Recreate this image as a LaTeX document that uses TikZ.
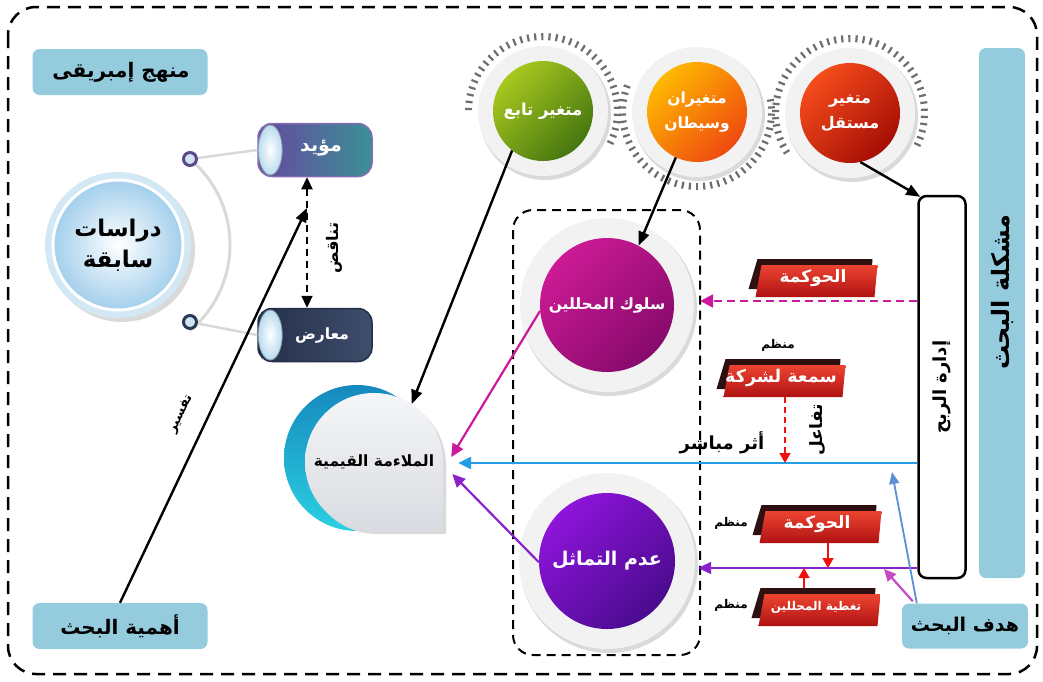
\documentclass[tikz,border=0pt]{standalone}
\usepackage{fontspec}
\setmainfont{DejaVu Sans}
\newfontfamily\arfont[Script=Arabic]{DejaVu Sans}
\TeXXeTstate=1
\usetikzlibrary{arrows.meta,calc}
\newcommand\AR[1]{{\arfont\bfseries\beginR#1\endR}}

\definecolor{boxblue}{HTML}{94CCDE}
\definecolor{ringgray}{HTML}{F2F2F2}
\definecolor{shadowgray}{HTML}{DADADA}
\definecolor{tickgray}{HTML}{6E6E6E}
\definecolor{greenA}{HTML}{A8C81E}
\definecolor{greenB}{HTML}{457610}
\definecolor{orangeA}{HTML}{FFB800}
\definecolor{orangeB}{HTML}{EE4A10}
\definecolor{redA}{HTML}{F64C1C}
\definecolor{redB}{HTML}{A60E05}
\definecolor{magA}{HTML}{CC1A95}
\definecolor{magB}{HTML}{870A6C}
\definecolor{purA}{HTML}{8E14DA}
\definecolor{purB}{HTML}{4A0B8E}
\definecolor{tealA}{HTML}{1689BE}
\definecolor{tealB}{HTML}{2BD0E2}
\definecolor{mulaA}{HTML}{F5F6F8}
\definecolor{mulaB}{HTML}{D8DBE0}
\definecolor{dirblue}{HTML}{A3CFEC}
\definecolor{dirring}{HTML}{D2E8F5}
\definecolor{arcgray}{HTML}{D9D9D9}
\definecolor{knobA}{HTML}{5A4A8A}
\definecolor{knobB}{HTML}{2A3A55}
\definecolor{knobfill}{HTML}{CFE3F0}
\definecolor{pillA}{HTML}{66479F}
\definecolor{pillB}{HTML}{3B9096}
\definecolor{pillC}{HTML}{242F4A}
\definecolor{pillD}{HTML}{3F4E6C}
\definecolor{capblue}{HTML}{B9DCEF}
\definecolor{tagdark}{HTML}{2E1010}
\definecolor{tagtop}{HTML}{EC4431}
\definecolor{tagbot}{HTML}{B01212}
\definecolor{magline}{HTML}{CC189C}
\definecolor{blueline}{HTML}{229DEA}
\definecolor{purline}{HTML}{8A22CC}
\definecolor{hmag}{HTML}{C44BC2}
\definecolor{hblue}{HTML}{5B8FD6}
\definecolor{redtip}{HTML}{F01010}

\tikzset{
  fs/.style={font=\fontsize{#1}{#1}\selectfont},
  infobox/.style={fill=boxblue, rounded corners=7pt, inner sep=0pt},
  ringdisc/.style={circle, fill=ringgray, minimum size=#1, inner sep=0pt},
  ball/.style 2 args={circle, minimum size=100pt, inner sep=0pt, top color=#1,
    bottom color=#2, shading angle=45, text=white, align=center},
  tick/.style={tickgray, line width=2.2pt},
  pill/.style={minimum width=114pt, minimum height=53pt, rounded corners=14pt,
    line width=1.5pt, inner sep=0pt},
  redtag/.style={minimum width=129pt, minimum height=38pt, inner sep=0pt,
    text=white, fs=#1,
    path picture={
      \fill[tagdark] ([xshift=9pt]path picture bounding box.north west)
        -- ([xshift=-5pt]path picture bounding box.north east)
        -- ([xshift=-7pt,yshift=8pt]path picture bounding box.south east)
        -- ([yshift=8pt]path picture bounding box.south west) -- cycle;
      \shade[top color=tagtop, bottom color=tagbot]
        ([xshift=13pt,yshift=-6pt]path picture bounding box.north west)
        -- ([yshift=-6pt]path picture bounding box.north east)
        -- ([xshift=-3pt]path picture bounding box.south east)
        -- ([xshift=7pt]path picture bounding box.south west) -- cycle;
    }},
  blackarrow/.style={line width=2.4pt, -{Triangle[length=14pt,width=11pt]}},
  colarrow/.style={line width=2.2pt, -{Triangle[length=13pt,width=12pt]}},
  redarrow/.style={redtip, line width=1.8pt, -{Triangle[length=10pt,width=11pt]}},
}

\begin{document}
\begin{tikzpicture}[x=1pt,y=-1pt]
\useasboundingbox (0,0) rectangle (1043,681);

% outer dashed frame
\draw[line width=2.5pt, dash pattern=on 13pt off 8pt, rounded corners=28pt]
  (8,7) rectangle (1037,674);

% blue heading boxes
\node[infobox, minimum width=175pt, minimum height=46pt] (manhaj) at (120,72) {};
\node[fs=20, inner sep=0pt] (manhajtxt) at (121,72) {\AR{منهج إمبريقى}};
\node[infobox, minimum width=175pt, minimum height=46pt, fs=20] (ahamiya) at (120,626) {\AR{أهمية البحث}};
\node[infobox, minimum width=126pt, minimum height=45pt, fs=19] (hadaf) at (965,626) {\AR{هدف البحث}};
\node[infobox, minimum width=46pt, minimum height=530pt] (mushkila) at (1002,313) {};
\node[rotate=90, fs=24, inner sep=0pt] (mushkilatxt) at (1002,292) {\AR{مشكلة البحث}};

% profit management box
\node[draw, line width=2.5pt, rounded corners=8pt, minimum width=47pt, minimum height=382pt, fill=white] (idara) at (942,387) {};
\node[rotate=90, fs=18, inner sep=0pt] (idaratxt) at (idara) {\AR{إدارة الربح}};

% top variable circles with tick rings
\coordinate (tabe0) at (543,111);
\coordinate (wasit0) at (697,112);
\coordinate (mustaqil0) at (850,113);
\foreach \a in {25,19.5,...,-180} \draw[tick] ($(tabe0)+(\a:71)$) -- ($(tabe0)+(\a:78)$);
\foreach \a in {-160,-165.5,...,-372} \draw[tick] ($(wasit0)+(\a:71)$) -- ($(wasit0)+(\a:78)$);
\foreach \a in {25,19.5,...,-212} \draw[tick] ($(mustaqil0)+(\a:71)$) -- ($(mustaqil0)+(\a:78)$);
\foreach \c in {tabe0,wasit0,mustaqil0} \fill[shadowgray] ($(\c)+(2,3)$) circle (66);
\node[ringdisc=130pt] (tabering) at (tabe0) {};
\node[ringdisc=130pt] (wasitring) at (wasit0) {};
\node[ringdisc=130pt] (mustaqilring) at (mustaqil0) {};
\node[ball={greenA}{greenB}, fs=16.5] (tabe) at (tabe0) {\AR{متغير تابع}};
\node[ball={orangeA}{orangeB}, font=\fontsize{15.5}{25}\selectfont] (wasit) at (wasit0) {\AR{متغيران}\\\AR{وسيطان}};
\node[ball={redA}{redB}, font=\fontsize{16}{25}\selectfont] (mustaqil) at (mustaqil0) {\AR{متغير}\\\AR{مستقل}};

% analysts group
\draw[line width=2pt, dash pattern=on 9pt off 6pt, rounded corners=20pt] (513,210) rectangle (700,655);
\fill[shadowgray] (609,308) circle (88);
\fill[shadowgray] (609,564) circle (89);
\node[ringdisc=174pt] (salokring) at (607,305) {};
\node[ringdisc=176pt] (adamring) at (607,561) {};
\node[ball={magA}{magB}, minimum size=134pt, fs=15.5] (salok) at (607,305) {\AR{سلوك المحللين}};
\node[ball={purA}{purB}, minimum size=136pt, fs=19] (adam) at (607,561) {\AR{عدم التماثل}};

% value relevance shape
\shade[top color=tealA, bottom color=tealB] (357,458) circle (73);
\fill[shadowgray] (446,465) -- (446,534) -- (377,534) arc[start angle=90, end angle=360, radius=69] -- cycle;
\shade[top color=mulaA, bottom color=mulaB] (443,462) -- (443,531) -- (374,531)
  arc[start angle=90, end angle=360, radius=69] -- cycle;
\node[circle, minimum size=138pt, inner sep=0pt, fs=15.5] (mula) at (374,462) {\AR{الملاءمة القيمية}};

% previous studies
\draw[arcgray, line width=3pt] (190,159) arc[start angle=-50, end angle=50, radius=112];
\fill[shadowgray] (122,249) circle (73);
\fill[dirring] (118,245) circle (73);
\node[circle, minimum size=130pt, inner sep=0pt, inner color=white, outer color=dirblue,
  draw=white, line width=3pt, font=\fontsize{23}{31}\selectfont, align=center] (dirasat) at (118,245)
  {\AR{دراسات}\\\AR{سابقة}};
\node[circle, minimum size=13pt, inner sep=0pt, draw=knobA, line width=3pt, fill=knobfill] (knob1) at (190,159) {};
\node[circle, minimum size=13pt, inner sep=0pt, draw=knobB, line width=3pt, fill=knobfill] (knob2) at (190,322) {};

% supporting / opposing pills
\node[pill, left color=pillA, right color=pillB, draw=pillA!80!white] (muayyid) at (315,150) {};
\node[pill, left color=pillC, right color=pillD, draw=pillC] (muarid) at (315,335) {};
\draw[arcgray, line width=2.5pt] (knob1) -- (muayyid.west);
\draw[arcgray, line width=2.5pt] (knob2) -- (muarid.west);
\shade[inner color=white, outer color=capblue, draw=capblue!70!black, line width=0.8pt]
  ($(muayyid.west)+(13,0)$) ellipse [x radius=12, y radius=25];
\shade[inner color=white, outer color=capblue, draw=capblue!70!black, line width=0.8pt]
  ($(muarid.west)+(13,0)$) ellipse [x radius=12, y radius=25];
\node[fs=19, text=white, inner sep=0pt] (muayyidtxt) at ($(muayyid)+(6,-2)$) {\AR{مؤيد}};
\node[fs=15.5, text=white, inner sep=0pt] (muaridtxt) at ($(muarid)+(7,0)$) {\AR{معارض}};

% contradiction arrow
\draw[line width=2.2pt, dash pattern=on 7pt off 5pt,
  {Triangle[length=12pt,width=11pt]}-{Triangle[length=12pt,width=11pt]}]
  ([xshift=-8pt]muayyid.south) -- ([xshift=-8pt]muarid.north);
\node[rotate=90, fs=16, inner sep=0pt] (tanaqud) at (334,248) {\AR{تناقض}};

% interpretation arrow
\coordinate (tafsirEnd) at (307,208);
\draw[blackarrow] (ahamiya.north) -- (tafsirEnd);
\node[rotate=64, fs=13, inner sep=0pt] (tafsir) at (181,414) {\AR{تفسير}};

% variable arrows
\draw[blackarrow] (tabe.-128) -- (mula.57);
\draw[blackarrow] (wasit.-115) -- (salok.62);
\draw[blackarrow] (mustaqil.-78) -- ([xshift=3pt,yshift=-2pt]idara.north west);

% red labels
\node[redtag=17] (hawk1) at (813,278) {\AR{الحوكمة}};
\node[redtag=17.5] (sumaa) at (781,378) {\AR{سمعة لشركة}};
\node[redtag=17] (hawk2) at (817,524) {\AR{الحوكمة}};
\node[redtag=12] (taghtiya) at (816,607) {\AR{تغطية المحللين}};
\node[fs=12, inner sep=0pt] (munazzam1) at (778,345) {\AR{منظم}};
\node[fs=12, inner sep=0pt] (munazzam2) at (731,523) {\AR{منظم}};
\node[fs=12, inner sep=0pt] (munazzam3) at (731,605) {\AR{منظم}};

% links from profit management
\coordinate (mstart) at ([yshift=86pt]idara.west);
\coordinate (bstart) at ([yshift=-76pt]idara.west);
\coordinate (pstart) at ([yshift=-181pt]idara.west);
\draw[magline, line width=2.2pt, dash pattern=on 8pt off 5pt, -{Triangle[length=13pt,width=13pt]}]
  (mstart) -- ([xshift=6pt,yshift=4pt]salokring.east);
\draw[blueline, colarrow, line width=2.6pt] (bstart) -- ([xshift=15pt,yshift=-1pt]mula.east);
\draw[purline, colarrow] (pstart) -- ([xshift=3pt,yshift=-7pt]adamring.east);

% links into value relevance
\draw[magline, colarrow] (salok.185) -- ([xshift=8pt,yshift=5pt]mula.east);
\draw[purline, colarrow] (adam.181) -- ([xshift=9pt,yshift=-12pt]mula.east);

% moderating effects
\draw[redarrow, dash pattern=on 6pt off 4pt] ([xshift=4pt]sumaa.south) -- ([xshift=4pt]sumaa.south |- bstart);
\draw[redarrow] ([xshift=11pt]hawk2.south) -- ([xshift=11pt]hawk2.south |- pstart);
\draw[redarrow] ([xshift=-12pt]taghtiya.north) -- ([xshift=-12pt]taghtiya.north |- pstart);
\node[rotate=90, fs=17, inner sep=0pt] (tafaul) at (818,430) {\AR{تفاعل}};
\node[fs=18, inner sep=0pt] (athar) at (722,443) {\AR{أثر مباشر}};

% research aim arrows
\coordinate (hp) at (884,569);
\coordinate (hb) at (892,472);
\draw[hmag, line width=2.2pt, -{Triangle[length=12pt,width=11pt]}] ([xshift=11pt,yshift=2pt]hadaf.north west) -- (hp);
\draw[hblue, line width=1.8pt, -{Triangle[length=12pt,width=10pt]}] ([xshift=15pt]hadaf.north west) -- (hb);
\end{tikzpicture}
\end{document}
